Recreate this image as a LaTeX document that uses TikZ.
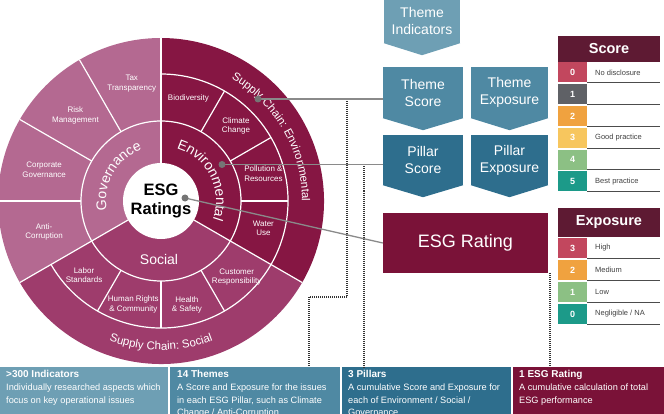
\documentclass[tikz,border=0pt]{standalone}
\usepackage{fontspec}
\setmainfont{Liberation Sans}
\usetikzlibrary{positioning,calc,decorations.text}
\definecolor{govC}{HTML}{B46991}
\definecolor{socC}{HTML}{9E3C6C}
\definecolor{envC}{HTML}{861643}
\definecolor{ratC}{HTML}{7A1238}
\definecolor{hdrC}{HTML}{5E1A33}
\definecolor{indC}{HTML}{6E9FB4}
\definecolor{thmC}{HTML}{4F89A3}
\definecolor{pilC}{HTML}{2E6E8D}
\definecolor{connC}{HTML}{8A8A8A}
\definecolor{sc0}{HTML}{C2475E}
\definecolor{sc1}{HTML}{5F6166}
\definecolor{sc2}{HTML}{F0A23F}
\definecolor{sc3}{HTML}{F7C65E}
\definecolor{sc4}{HTML}{8CC084}
\definecolor{sc5}{HTML}{1C9A89}
\newcommand{\pillfont}{\fontsize{14}{16}\selectfont}
\newcommand{\chainfont}{\fontsize{11.5}{13}\selectfont}
\tikzset{
  theme/.style={align=center, text=white, inner sep=0pt, font=\fontsize{8}{9.2}\selectfont},
  chev/.style={rectangle, inner sep=0pt, text=white, align=center, font=\fontsize{14}{17}\selectfont},
  hdr/.style={fill=hdrC, minimum width=102pt, inner sep=0pt, text=white, font=\fontsize{14.5}{16}\selectfont\bfseries},
  num/.style={minimum width=29pt, minimum height=20pt, inner sep=0pt, text=white, font=\fontsize{9}{10}\selectfont\bfseries},
  lab/.style={anchor=west, inner sep=0pt, text=black!75, font=\fontsize{7.5}{9}\selectfont},
  rowline/.style={draw=black!70, line width=0.8pt},
  conn/.style={draw=connC, line width=1.3pt},
  dotln/.style={draw=black!80, line width=2pt, dash pattern=on 1pt off 1pt},
  bbox/.style={minimum height=52pt, inner sep=0pt},
  btxt/.style={anchor=north west, align=left, inner sep=0pt, text=white, font=\fontsize{9.2}{12.8}\selectfont},
}
\begin{document}
\begin{tikzpicture}[x=1pt,y=1pt]
\useasboundingbox (0,0) rectangle (664,413);
\clip (0,0) rectangle (664,413);
\coordinate (c) at (161,212);
% three pillars
\fill[govC] (c) -- ($(c)+(90:163)$) arc[start angle=90,end angle=210,radius=163] -- cycle;
\fill[socC] (c) -- ($(c)+(210:163)$) arc[start angle=210,end angle=330,radius=163] -- cycle;
\fill[envC] (c) -- ($(c)+(-30:163)$) arc[start angle=-30,end angle=90,radius=163] -- cycle;
% rings and spokes
\begin{scope}[draw=white, line width=1.2pt]
\draw (c) circle[radius=80];
\draw ($(c)+(-150:127)$) arc[start angle=-150,end angle=90,radius=127];
\foreach \a in {90,210,330} \draw (c) -- ($(c)+(\a:163)$);
\foreach \a in {120,150,180} \draw ($(c)+(\a:80)$) -- ($(c)+(\a:163)$);
\foreach \a in {60,30,0,-60,-90,-120} \draw ($(c)+(\a:80)$) -- ($(c)+(\a:127)$);
\end{scope}
\fill[white] (c) circle[radius=38];
\node[font=\fontsize{16.5}{19.5}\selectfont\bfseries, align=center, inner sep=0pt] (esg) at (c) {ESG\\Ratings};
% themes
\foreach \a/\t [count=\i] in {104/Tax\\Transparency, 135/Risk\\Management, 165/Corporate\\Governance, 195/Anti-\\Corruption}
  \node[theme] (g\i) at ($(c)+(\a:121)$) {\t};
\foreach \a/\t [count=\i] in {75/Biodiversity, 45/Climate\\Change, 15/Pollution \&\\Resources, -15/Water\\Use}
  \node[theme] (e\i) at ($(c)+(\a:106)$) {\t};
\foreach \a/\t [count=\i] in {-45/Customer\\Responsibility, -76/Health\\\& Safety, -105/Human Rights\\\& Community, -136/Labor\\Standards}
  \node[theme] (s\i) at ($(c)+(\a:107)$) {\t};
% pillar names
\path[decorate, decoration={text along path, text align=center, text={|\pillfont\color{white}|Governance}}]
  ($(c)+(210:55)$) arc[start angle=210,end angle=90,radius=55];
\path[decorate, decoration={text along path, text align=center, text={|\pillfont\color{white}|Environmental}}]
  ($(c)+(87:55)$) arc[start angle=87,end angle=-33,radius=55];
\node[text=white, font=\pillfont, inner sep=0pt] (soc) at (159,153.5) {Social};
% supply chain rings
\path[decorate, decoration={text along path, text align=center, text={|\chainfont\color{white}|Supply Chain: Environmental}}]
  ($(c)+(90:141)$) arc[start angle=90,end angle=-30,radius=141];
\path[decorate, decoration={text along path, text align=center, text={|\chainfont\color{white}|Supply Chain: Social}}]
  ($(c)+(-150:149)$) arc[start angle=-150,end angle=-30,radius=149];
% calculation steps
\node[chev, fill=indC, minimum width=76pt, minimum height=44pt] (tind) at (422,392) {Theme\\Indicators};
\node[chev, fill=thmC, minimum width=80pt, minimum height=51pt] (tscore) at (423,320.5) {Theme\\Score};
\node[chev, fill=thmC, minimum width=77pt, minimum height=51pt] (texpo) at (509.5,320.5) {Theme\\Exposure};
\node[chev, fill=pilC, minimum width=80pt, minimum height=50pt] (pscore) at (423,253) {Pillar\\Score};
\node[chev, fill=pilC, minimum width=77pt, minimum height=50pt] (pexpo) at (509.5,253) {Pillar\\Exposure};
\foreach \n/\c in {tind/indC, tscore/thmC, texpo/thmC, pscore/pilC, pexpo/pilC}
  \fill[\c] (\n.south west) -- (\n.south east) -- ([yshift=-12pt]\n.south) -- cycle;
\node[chev, fill=ratC, minimum width=165pt, minimum height=60pt, font=\fontsize{18}{20}\selectfont] (rating) at (465.5,170) {ESG Rating};
% score legend
\node[hdr, minimum height=26pt] (scorehd) at (609,364) {Score};
\foreach \c/\t [count=\i from 0] in {sc0/No disclosure, sc1/, sc2/, sc3/Good practice, sc4/, sc5/Best practice} {
  \node[num, fill=\c] (sn\i) at (572.5,340.5-21.8*\i) {\i};
  \node[lab] (sl\i) at (595,340.5-21.8*\i) {\t};
  \draw[rowline] (sn\i.south east) -- ++(73,0);
}
% exposure legend
\node[hdr, minimum height=29pt] (expohd) at (609,190.5) {Exposure};
\foreach \v/\c/\t [count=\i] in {3/sc0/High, 2/sc2/Medium, 1/sc4/Low, 0/sc5/{Negligible / NA}} {
  \node[num, fill=\c] (en\i) at (572.5,187-22*\i) {\v};
  \node[lab] (el\i) at (595,187-22*\i) {\t};
  \draw[rowline] (en\i.south east) -- ++(73,0);
}
% bottom strip
\node[bbox, fill=indC, minimum width=168pt] (bind) at (84,20) {};
\node[bbox, fill=thmC, minimum width=170pt] (bthm) at (255,20) {};
\node[bbox, fill=pilC, minimum width=169pt] (bpil) at (426.5,20) {};
\node[bbox, fill=ratC, minimum width=152pt] (brat) at (589,20) {};
\node[btxt] (tx1) at (6,43) {\textbf{\fontsize{10}{12.8}\selectfont >300 Indicators}\\Individually researched aspects which\\focus on key operational issues};
\node[btxt] (tx2) at (177,43) {\textbf{\fontsize{10}{12.8}\selectfont 14 Themes}\\A Score and Exposure for the issues\\in each ESG Pillar, such as Climate\\Change / Anti-Corruption};
\node[btxt] (tx3) at (348,43) {\textbf{\fontsize{10}{12.8}\selectfont 3 Pillars}\\A cumulative Score and Exposure for\\each of Environment / Social /\\Governance};
\node[btxt] (tx4) at (519,43) {\textbf{\fontsize{10}{12.8}\selectfont 1 ESG Rating}\\A cumulative calculation of total\\ESG performance};
% links from the wheel
\coordinate (d1) at (258,314);
\coordinate (d2) at (222,248.5);
\coordinate (d3) at (185,215);
\coordinate (ta) at (347,314);
\coordinate (pa) at (364,248.5);
\coordinate (bend) at (309,116);
\coordinate (ra) at ([xshift=1.5pt]rating.south east);
\draw[dotln] (ta) |- (bend) -- (bend |- bthm.north);
\draw[dotln] (pa) -- (pa |- bpil.north);
\draw[dotln] (ra) -- (ra |- brat.north);
\draw[conn] (d1) -- (d1 -| tscore.west);
\draw[conn] (d2) -- (d2 -| pscore.west);
\draw[conn] (d3) -- (rating.west);
\foreach \d in {d1,d2,d3} \fill[connC!85!black] (\d) circle[radius=3.5];
\end{tikzpicture}
\end{document}
